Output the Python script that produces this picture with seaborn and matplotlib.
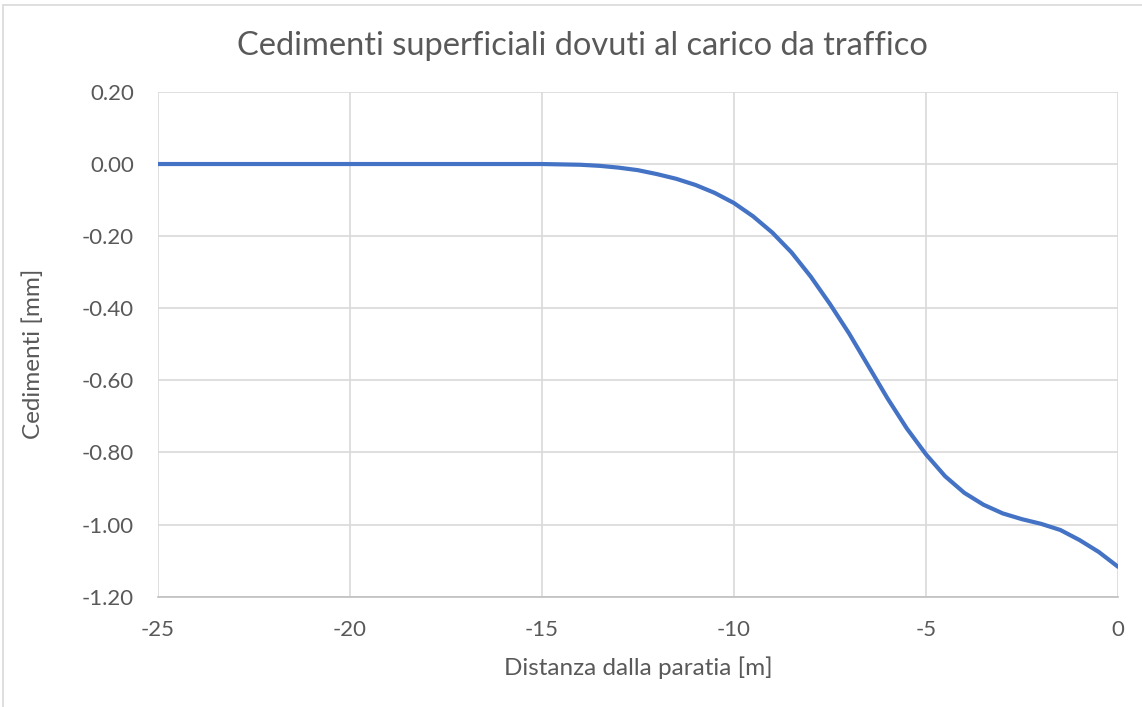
import matplotlib
matplotlib.use("Agg")
import matplotlib.pyplot as plt
import seaborn as sns
import pandas as pd
from matplotlib.lines import Line2D

distanza = [-25, -24, -23, -22, -21, -20, -19, -18, -17, -16, -15, -14.5, -14, -13.5, -13, -12.5,
            -12, -11.5, -11, -10.5, -10, -9.5, -9, -8.5, -8, -7.5, -7, -6.5, -6, -5.5,
            -5, -4.5, -4, -3.5, -3, -2.5, -2, -1.5, -1, -0.5, 0]
cedimenti = [0.0, 0.0, 0.0, 0.0, 0.0, 0.0, 0.0, 0.0, 0.0, 0.0, 0.0, -0.001, -0.002, -0.005, -0.010, -0.017,
             -0.028, -0.041, -0.058, -0.080, -0.108, -0.145, -0.190, -0.245, -0.312, -0.388, -0.470, -0.560,
             -0.650, -0.733, -0.805, -0.866, -0.912, -0.945, -0.969, -0.985, -0.998, -1.015, -1.043, -1.076, -1.117]

title = "Cedimenti superficiali dovuti al carico da traffico"
xlabel = "Distanza dalla paratia [m]"
ylabel = "Cedimenti [mm]"
xticks = [-25, -20, -15, -10, -5, 0]
yticks = [0.20, 0.00, -0.20, -0.40, -0.60, -0.80, -1.00, -1.20]

df = pd.DataFrame({"x": distanza, "y": cedimenti})

sns.set_style("white")
plt.rcParams['font.family'] = ['Lato', 'DejaVu Sans']

fig = plt.figure(figsize=(11.42, 7.07), dpi=100)
ax = fig.add_axes([0.138, 0.156, 0.841, 0.714])

sns.lineplot(data=df, x="x", y="y", ax=ax, color="#4472C4", linewidth=3)

ax.set_xlim(-25, 0)
ax.set_ylim(-1.20, 0.20)
ax.set_xticks(xticks)
ax.set_xticklabels([f"{t}" for t in xticks])
ax.set_yticks(yticks)
ax.set_yticklabels([f"{t:.2f}" for t in yticks])
ax.grid(True, color="#D9D9D9", linewidth=1.2)
ax.set_axisbelow(True)
for s in ["top", "right", "left"]:
    ax.spines[s].set_visible(False)
ax.spines["bottom"].set_color("#BFBFBF")
ax.spines["bottom"].set_linewidth(1.2)
ax.tick_params(axis="both", length=0, labelsize=16, labelcolor="#595959")
ax.tick_params(axis="x", pad=17)
ax.tick_params(axis="y", pad=17)
ax.set_xlabel("")
ax.set_ylabel("")

fig.text(0.51, 0.935, title, ha="center", va="center", fontsize=23.5, color="#595959")
fig.text(0.559, 0.056, xlabel, ha="center", va="center", fontsize=17.5, color="#595959")
fig.text(0.029, 0.50, ylabel, ha="center", va="center", rotation=90, fontsize=17.5, color="#595959")

fig.add_artist(Line2D([0.003, 1.0], [0.993, 0.993], transform=fig.transFigure, color="#D9D9D9", linewidth=1.2))
fig.add_artist(Line2D([0.003, 0.003], [0.0, 0.993], transform=fig.transFigure, color="#D9D9D9", linewidth=1.2))

fig.savefig("out.png", dpi=100)
